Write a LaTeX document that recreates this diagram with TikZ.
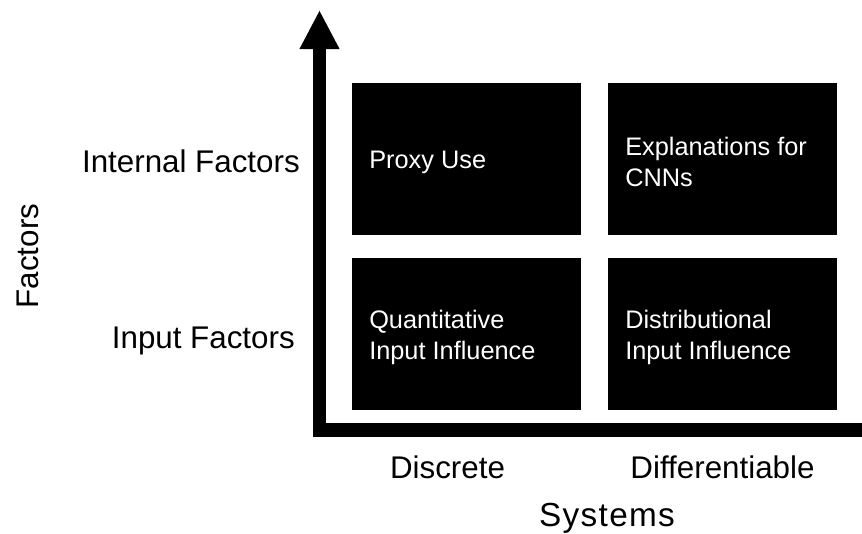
\documentclass[tikz,border=0pt]{standalone}
\usepackage{fontspec}
\setmainfont{Liberation Sans}
\usetikzlibrary{arrows.meta}
\begin{document}
\begin{tikzpicture}[x=0.75pt,y=-0.75pt,
  cell/.style={fill=black,minimum width=171.75pt,minimum height=114pt,
    inner sep=0pt,anchor=north west},
  celltext/.style={text=white,align=left,inner sep=0pt,anchor=west,
    xshift=12.75pt,yshift=-2.25pt,font=\fontsize{19}{23}\selectfont},
  lab/.style={font=\fontsize{23.5}{28}\selectfont,inner sep=0pt},
  axis/.style={line width=#1}]
\useasboundingbox (0,0) rectangle (862,533);
% boxes
\node[cell] (pu) at (352,83) {};
\node[cell] (ecnn) at (608,83) {};
\node[cell] (qii) at (352,258) {};
\node[cell] (dii) at (608,258) {};
\node[celltext] (put) at (pu.west) {Proxy Use};
\node[celltext] (ecnnt) at (ecnn.west) {Explanations for\\CNNs};
\node[celltext] (qiit) at (qii.west) {Quantitative\\Input Influence};
\node[celltext] (diit) at (dii.west) {Distributional\\Input Influence};
% axes
\coordinate (corner) at (319.5,437);
\coordinate (top) at (319.5,10);
\coordinate (hstart) at (313,430);
\coordinate (hend) at (862,430);
\draw[axis=9.75pt,-{Triangle[length=29.25pt,width=27.75pt]}] (corner) -- (top);
\draw[axis=10.5pt] (hstart) -- (hend);
% labels
\node[lab,anchor=base east] (intf) at (300,172) {Internal Factors};
\node[lab,anchor=base east] (inpf) at (295,348) {Input Factors};
\node[lab,anchor=base,rotate=90] (fac) at (38,256) {Factors};
\node[lab,anchor=base] (disc) at (447.5,478) {Discrete};
\node[lab,anchor=base] (diff) at (722.5,478) {Differentiable};
\node[lab,anchor=base,font=\fontsize{25}{29}\selectfont\addfontfeature{LetterSpace=4}] (sys) at (607,526) {Systems};
\end{tikzpicture}
\end{document}
